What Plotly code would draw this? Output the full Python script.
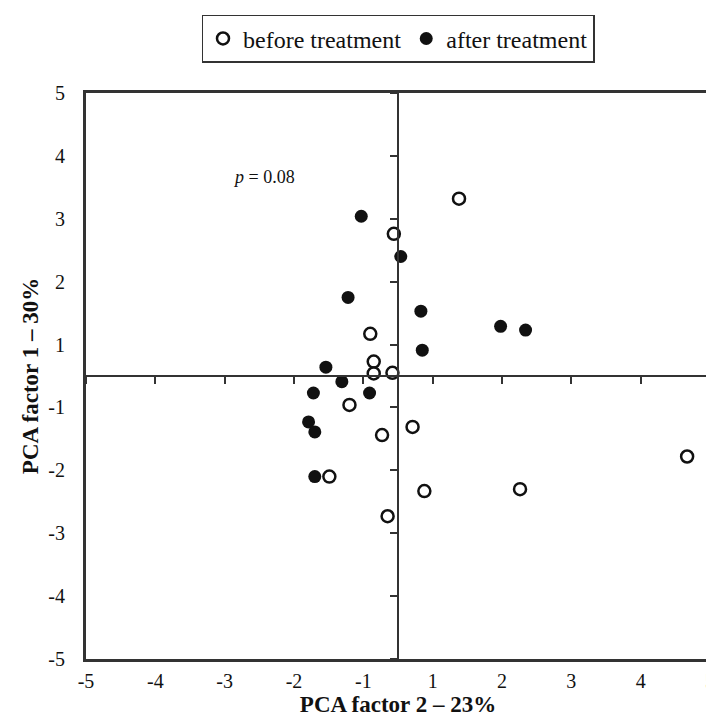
import plotly.graph_objects as go

# Data (linear plot coordinates; crosshair at 0, tick labels at half-unit positions)
before_x = [0.88, -0.06, -0.40, -0.35, -0.35, -0.08, -0.70, 0.21, -0.23, -0.99, 0.38, 1.76, -0.15, 4.17]
before_y = [2.82, 2.26, 0.67, 0.23, 0.04, 0.05, -0.46, -0.81, -0.94, -1.60, -1.83, -1.80, -2.23, -1.28]
after_x = [-0.53, 0.04, -0.72, 0.33, 1.48, 1.84, 0.35, -1.04, -0.81, -1.22, -0.41, -1.29, -1.20, -1.20]
after_y = [2.54, 1.90, 1.25, 1.03, 0.79, 0.73, 0.41, 0.14, -0.09, -0.27, -0.27, -0.73, -0.89, -1.60]

tick_vals = [-4.5, -3.5, -2.5, -1.5, -0.5, 0.5, 1.5, 2.5, 3.5, 4.5]
tick_text = ["-5", "-4", "-3", "-2", "-1", "1", "2", "3", "4", "5"]
ax_range = [-4.5, 4.5]

FONT = "Liberation Serif"
INK = "#111111"

fig = go.Figure()
fig.add_trace(go.Scatter(
    x=before_x, y=before_y, mode="markers", name="before treatment",
    marker=dict(symbol="circle", size=12, color="white",
                line=dict(color=INK, width=2.5)),
))
fig.add_trace(go.Scatter(
    x=after_x, y=after_y, mode="markers", name="after treatment",
    marker=dict(symbol="circle", size=13, color=INK,
                line=dict(color=INK, width=0)),
))
# invisible trace to register crosshair axes
fig.add_trace(go.Scatter(x=[0], y=[0], xaxis="x2", yaxis="y2", mode="markers",
                         marker=dict(opacity=0), showlegend=False, hoverinfo="skip"))

fig.add_annotation(x=-1.93, y=3.16, text="<i>p</i> = 0.08", showarrow=False,
                   font=dict(family=FONT, size=18, color=INK))

frame = dict(range=ax_range, tickvals=tick_vals, ticktext=tick_text,
             showline=True, mirror=True, linewidth=3, linecolor="#333333",
             ticks="", showgrid=False, zeroline=False,
             tickfont=dict(family=FONT, size=20, color=INK))
cross = dict(range=ax_range, tickvals=tick_vals, showticklabels=False,
             showline=True, linewidth=1.8, linecolor="#333333",
             ticks="outside", ticklen=7, tickwidth=1.5, tickcolor="#333333",
             showgrid=False, zeroline=False, anchor="free", position=0.5)

fig.update_layout(
    width=714, height=723,
    margin=dict(l=78, r=7, t=82, b=72),
    plot_bgcolor="white", paper_bgcolor="white",
    font=dict(family=FONT, color=INK),
    xaxis=dict(**frame, ticklabelstandoff=2,
               title=dict(text="<b>PCA factor 2 – 23%</b>", standoff=0,
                          font=dict(family=FONT, size=23, color=INK))),
    yaxis=dict(**frame, ticklabelstandoff=14,
               title=dict(text="<b>PCA factor 1 – 30%</b>", standoff=4,
                          font=dict(family=FONT, size=23, color=INK))),
    xaxis2=dict(**cross, overlaying="x", side="bottom"),
    yaxis2=dict(**cross, overlaying="y", side="left"),
    legend=dict(orientation="h", x=0.5, xanchor="center", y=1.138, yanchor="top",
                bordercolor="#333333", borderwidth=1.5, bgcolor="white",
                font=dict(family=FONT, size=24, color=INK),
                itemwidth=30, tracegroupgap=0),
    showlegend=True,
)

fig.write_html("out.html")
